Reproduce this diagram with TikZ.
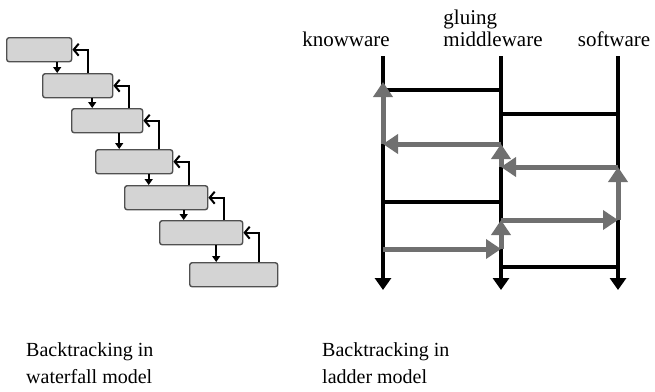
\documentclass[tikz,border=0pt]{standalone}
\usepackage{fontspec}
\setmainfont{Liberation Serif}
\usetikzlibrary{arrows.meta,calc}
\definecolor{boxgray}{RGB}{212,212,212}
\definecolor{edgegray}{RGB}{80,80,80}
\definecolor{trackgray}{RGB}{112,112,112}
\tikzstyle{stage} = [rectangle, rounded corners=2.5pt, minimum height=24pt, inner sep=0pt, fill=boxgray, draw=edgegray, line width=1.4pt, anchor=north west]
\tikzstyle{flow} = [line width=1.8pt, -{Triangle[length=6pt,width=8pt]}]
\tikzstyle{back} = [line width=2pt, -{Straight Barb[length=5pt,width=12pt]}]
\tikzstyle{layer} = [line width=4pt, -{Triangle[length=12pt,width=16pt]}]
\tikzstyle{rung} = [line width=3.2pt]
\tikzstyle{track} = [line width=5pt, draw=trackgray, -{Triangle[length=15pt,width=19pt]}]
\tikzstyle{word} = [font=\fontsize{21}{22}\selectfont, inner sep=0pt]

\begin{document}
\begin{tikzpicture}[x=1pt,y=-1pt]%
	\useasboundingbox (0,0) rectangle (655,391);%
	% waterfall
	\foreach \i/\x/\y/\w in {1/6/37/65, 2/42/73/70, 3/71/108/71, 4/95/149/77, 5/124/185/83, 6/159/220/83, 7/189/262/88}%
		\node[stage, minimum width=\w pt] (b\i) at (\x,\y) {};%
	\foreach \i/\j in {1/2, 2/3, 3/4, 4/5, 5/6, 6/7} {%
		\coordinate (mid) at ($(b\i.south east)!.5!(b\j.north west)$);%
		\draw[flow] (b\i.south -| mid) -- (b\j.north -| mid);%
		\coordinate (turn) at ([xshift=16pt]b\i.east);%
		\draw[back] (turn |- b\j.north) |- (b\i.east);%
	}%
	% ladder
	\foreach \n/\x in {k/383, m/501, s/618} {%
		\coordinate (\n t) at (\x,56);%
		\coordinate (\n b) at (\x,290);%
		\draw[layer] (\n t) -- (\n b);%
	}%
	\foreach \a/\b/\y in {k/m/90, m/s/114, k/m/202, m/s/267}%
		\draw[rung] (\a t |- 0,\y) -- (\b t |- 0,\y);%
	\foreach \i/\x/\y in {0/383/249, 1/501/249, 2/501/220, 3/618/220, 4/618/167, 5/501/167, 6/501/144, 7/383/144, 8/383/82}%
		\coordinate (g\i) at (\x,\y);%
	\foreach \i [evaluate=\i as \j using int(\i+1)] in {0,...,7}%
		\draw[track] (g\i) -- (g\j);%
	\node[word] (know) at (346,39) {knowware};%
	\node[word, align=left] (glue) at (493,28) {gluing\\middleware};%
	\node[word] (soft) at (614,39) {software};%
	% captions
	\node[word, align=left, anchor=west, font=\fontsize{20}{27}\selectfont] (wcap) at (26,363) {Backtracking in\\waterfall model};%
	\node[word, align=left, anchor=west, font=\fontsize{20}{27}\selectfont] (lcap) at (322,363) {Backtracking in\\ladder model};%
\end{tikzpicture}
\end{document}
